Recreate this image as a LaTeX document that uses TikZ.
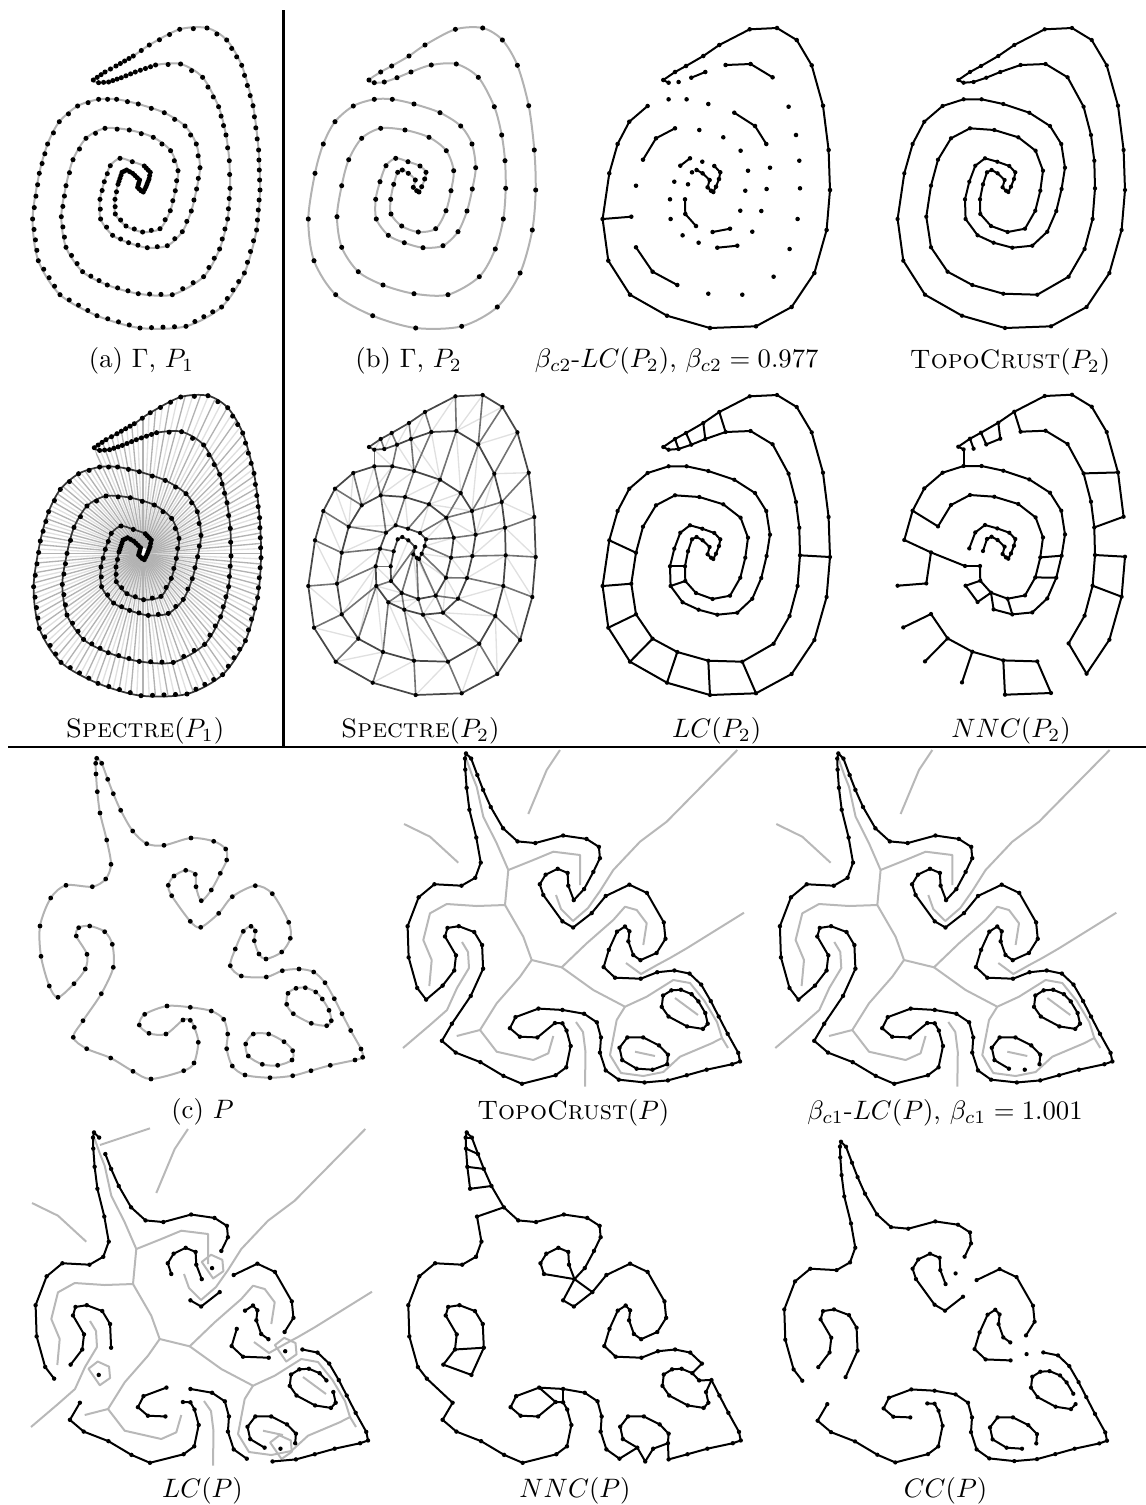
\documentclass[tikz,border=0pt]{standalone}

% samples of the spiral curve (frame of panel (a))
\newcommand\gammapts{(93.3,80),(105,72),(116,66),(133.3,56),(149.3,45),(179.7,29.3),(207,28),(226.7,40),(241.7,65.3),(253,105.7),(258.6,150),(260,190),(256.6,230),(244.4,273),(221.6,307),(186,326.3),(140,328),(97,315.7),(60,294.7),(38.3,260.7),(32.6,219),(39.3,173.3),(47.6,144),(59.3,121.7),(77.6,106),(98.6,99.3),(116.6,99.3),(138.3,104),(164.3,112.7),(185,126),(196.3,144),(200,167.7),(196.6,189),(191.3,211),(182.3,231.7),(167.3,245.7),(147.3,247.7),(128.6,242.7),(112.6,235.3),(100.6,219),(100,199.3),(104.3,181.7),(110.3,165.7),(120,158.3),(132.3,161.7),(144.3,166),(150.3,172.3),(149,179),(146,186.7),(143.3,192),(141,190.7),(137.6,187.3),(139.6,180),(132.6,173.3),(126.6,170),(122,172.3),(118,184.3),(115,199.3),(115.3,214),(126,226),(142.6,232),(160,228.7),(170.3,210.7),(175.3,190.7),(178,170.7),(170.6,150.7),(153.3,137.3),(129.3,130),(105,128.3),(86,138.3),(73,159.7),(66,185.7),(61.3,216.7),(66,247.3),(82.6,271.7),(107.3,285),(138.3,293.7),(172.3,294.7),(203.6,276.7),(219.6,249),(227.6,219),(230,188.3),(229.3,160.7),(226,135),(218.6,106.7),(202.6,77.3),(180.6,64),(155.6,65),(135.3,72),(121.3,77.7),(108.6,82),(98.6,82.7)}

% samples of the flame curve (frame of panel (c))
\newcommand\flamepts{(96.7,758.3),(101.7,763.3),(107.7,779.3),(113.3,793.7),(120.7,810.3),(132.7,831),(146.7,843.7),(164,845.3),(191,838),(213.7,841.3),(225.7,849),(226.7,860),(220.3,873.3),(211.3,890),(201.3,900.7),(196,886.7),(195.3,874.3),(185.7,870.3),(174,876),(168.3,885.3),(171.7,895.7),(190.3,921.3),(200.7,927.3),(218.7,913.3),(232.3,896.7),(255.3,885.7),(272.3,893.7),(288.7,922.3),(290.3,938.3),(281.7,952),(266,959),(259,954),(254.3,940.7),(255.3,931),(251,926.3),(243.3,931.3),(235.3,949),(230.3,965.7),(241.3,976),(266.3,977),(282.3,970.7),(299,969),(313.7,972),(325,982.7),(334.3,998.7),(342,1013.7),(350.7,1030.5),(361,1049),(362.7,1057.3),(355,1060),(330.3,1065.3),(311,1070.7),(292.7,1075.7),(270,1077.7),(245,1075),(232.3,1066),(226.7,1048.7),(227.7,1034),(223.7,1019.3),(211.3,1011),(190.3,1007.3),(167,1006),(144.7,1014.3),(139.3,1025),(149,1033.3),(166,1034),(183,1020),(190.3,1020.3),(194.3,1027.3),(198.3,1042.3),(194,1063),(183.7,1070.7),(151,1079),(133,1071.3),(110.7,1058),(86.7,1048.7),(73.3,1037.3),(83,1020.7),(101.3,993.7),(113.3,967.3),(112.3,944.3),(104.7,931.7),(89.7,926),(78.7,927.7),(76.3,936),(87,954.3),(85.3,969),(74,983.7),(58,997.3),(49.3,986),(41,956.3),(40,926),(50.7,898),(66,885.3),(92.3,886.7),(105.7,879),(111,864.3),(106.7,840),(100,813),(97.3,791.7),(96,774),(95.7,763.3)}
\newcommand\holeApts{(296,988.3),(305.3,987.7),(315.7,992),(322.3,999),(329,1010.3),(331.3,1020.7),(326.7,1025.7),(311.3,1023.3),(293.3,1013.7),(286.7,1004.3),(288,993.3)}
\newcommand\holeBpts{(253.3,1034),(268.7,1034),(284,1041.7),(292.7,1050.7),(292,1060),(277.7,1065.3),(262.3,1064.3),(248.3,1056),(245.7,1044)}

% rungs of the Spectre mesh on P2
\newcommand\spectrerungs{2/91,3/90,4/89,5/88,6/87,7/86,8/86,9/85,10/84,11/83,12/82,13/81,14/80,15/79,16/78,17/77,18/76,19/75,20/74,21/73,22/72,23/71,24/70,25/70,92/26,90/27,89/28,88/28,87/29,86/30,85/31,84/31,83/32,82/33,81/34,80/35,79/36,78/37,77/38,76/39,75/40,74/40,73/41,72/42,71/43,26/69,27/69,28/68,29/67,30/66,31/66,32/65,33/64,34/63,35/62,36/62,37/61,38/60,39/60,40/59,41/58,42/57,69/43,68/44,67/45,66/46,65/47,64/48,63/49,62/50,61/51,60/52,59/53}

\newcommand\mkcoords[2]{\foreach \p [count=\i] in #2 {\edef\tmpcoord{\noexpand\coordinate (#1\i) at \p;}\tmpcoord}}
\newcommand\sites[3]{\foreach \i in {1,...,#2} {\fill (#1\i) circle[radius=#3];}}
\newcommand\chain[4]{\draw[#1] (#2#3) \foreach \i in {#3,...,#4} {-- (#2\i)};}
\newcommand\ring[3]{\draw[#1] (#21) \foreach \i in {2,...,#3} {-- (#2\i)} -- cycle;}
\newcommand\rungs[3]{\foreach \u/\v in {#3} {\draw[#1] (#2\u) -- (#2\v);}}
\newcommand\links[2]{\foreach \u/\v in {#2} {\draw[#1] (\u) -- (\v);}}
\newcommand\smoothloop[3]{%
  \gdef\looppts{}\foreach \i in {1,...,#2} {\xdef\looppts{\looppts(#1\i)}}%
  \edef\tmpdraw{\noexpand\path[#3] plot[smooth cycle, tension=0.5] coordinates {\looppts};}\tmpdraw}
\makeatletter
% dense sample P1: extra sites between consecutive points of P2
\newcommand\densesamples[1]{%
  \foreach \i in {1,...,92} {%
    \pgfmathtruncatemacro\j{mod(\i,92)+1}%
    \pgfmathsetmacro\gap{(\i>45 && \i<57) ? 1.1 : ((\i>87 || \i<4) ? 1.9 : ((\i>37 && \i<62) ? 3.2 : 4.2))}%
    \pgfpointdiff{\pgfpointanchor{#1\i}{center}}{\pgfpointanchor{#1\j}{center}}%
    \pgf@xa=\pgf@x \pgf@ya=\pgf@y
    \pgfmathveclen{\pgf@xa}{\pgf@ya}%
    \pgfmathtruncatemacro\nn{max(1,round(\pgfmathresult/\gap))}%
    \foreach \k in {1,...,\nn} {%
      \pgfmathsetmacro\tpos{(\k-1)/\nn}%
      \pgfpathcircle{\pgfpointlineattime{\tpos}{\pgfpointanchor{#1\i}{center}}{\pgfpointanchor{#1\j}{center}}}{0.95pt}%
      \pgfusepath{fill}%
    }%
  }}
\makeatother
\newcommand\flamecoords[1]{\mkcoords{#1f}{\flamepts}\mkcoords{#1e}{\holeApts}\mkcoords{#1q}{\holeBpts}}
\newcommand\flamesites[2]{\sites{#1f}{102}{#2}\sites{#1e}{11}{#2}\sites{#1q}{9}{#2}}

% medial lines of the flame, frame of the TopoCrust(P) panel
\newcommand\skeleton{%
  \draw[skel] (404,824) -- (430,836.7) -- (458.3,862.7);
  \draw[skel] (560,750) -- (546.7,770) -- (528.3,814);
  \draw[skel] (737.3,750) -- (666.7,821.7) -- (640,841.7) -- (613.3,870) -- (600,891) -- (588,908) -- (573,921) -- (561,909) -- (556,895);
  \draw[skel] (744,912.7) -- (686.7,948.3) -- (670,958) -- (657,965) -- (641,974) -- (626,963);
  \draw[skel] (466.7,760) -- (472,775) -- (476.7,786.7) -- (483.3,816.7) -- (496.7,843.3) -- (508.3,870) -- (533.3,860) -- (553.3,851.7) -- (580,855) -- (580,885);
  \draw[skel] (508.3,870) -- (505,905) -- (476.7,906) -- (446.7,904) -- (430,913.3) -- (423.3,940) -- (431.7,960) -- (429.3,986);
  \draw[skel] (462,942) -- (468,952) -- (469,968) -- (457,988) -- (447,1010) -- (430,1025) -- (403,1048);
  \draw[skel] (505,905) -- (523.3,936.7) -- (531.7,960) -- (561.7,967.3) -- (586.7,943.3) -- (613.3,920) -- (625,906.7) -- (636.7,910) -- (646.7,923.3) -- (643.3,945);
  \draw[skel] (561.7,967.3) -- (593.3,990) -- (625,1006.7) -- (646.7,996.7) -- (673.3,980) -- (690,983) -- (704.5,1001) -- (717,1022) -- (722,1038);
  \draw[skel] (675,998) -- (698,1015);
  \draw[skel] (625,1006.7) -- (616.7,1020) -- (610,1055) -- (621,1073) -- (643.3,1076) -- (663.3,1072) -- (680,1056.7) -- (711.7,1043.3) -- (722,1038) -- (728,1048);
  \draw[skel] (635,1051.7) -- (655,1056);
  \draw[skel] (531.7,960) -- (520,976.7) -- (496.7,1003.3) -- (480,1030) -- (456.7,1036);
  \draw[skel] (480,1030) -- (496.7,1051.7) -- (533.3,1060) -- (548.3,1053.3) -- (553.3,1036);
  \draw[skel] (585,1086.7) -- (585.5,1052) -- (583,1032) -- (576,1022);}

\begin{document}
\begin{tikzpicture}[x=0.375pt, y=-0.375pt,
    gcurve/.style={draw=black!30, line width=0.75pt},
    crust/.style={draw=black, line width=0.75pt, line join=round, line cap=round},
    skel/.style={draw=black!28, line width=0.75pt, line join=round},
    spoke/.style={draw=black!30, line width=0.5pt},
    faint/.style={draw=black!12, line width=0.5pt},
    rung/.style={draw=black!55, line width=0.6pt},
    mesh/.style={draw=black!72, line width=0.65pt, line join=round},
    rule/.style={draw=black, line width=0.8pt}]
    \useasboundingbox (0,0) rectangle (1146,1505);

    % frame rules
    \draw[rule] (283.5,10) -- (283.5,747);
    \draw[rule] (8,747) -- (1146,747);

    % (a) Gamma with dense sample P1
    \begin{scope}
        \mkcoords{a}{\gammapts}
        \smoothloop{a}{92}{gcurve}
        \densesamples{a}
    \end{scope}

    % (b) Gamma with sparse sample P2
    \begin{scope}[shift={(275.7,0)}]
        \mkcoords{b}{\gammapts}
        \smoothloop{b}{92}{gcurve}
        \sites{b}{92}{0.95pt}
    \end{scope}

    % beta-LC(P2)
    \begin{scope}[shift={(570,0)}]
        \mkcoords{k}{\gammapts}
        \chain{crust}{k}{1}{25} \chain{crust}{k}{29}{31} \chain{crust}{k}{36}{37}
        \chain{crust}{k}{43}{44} \chain{crust}{k}{46}{55} \chain{crust}{k}{58}{60}
        \chain{crust}{k}{61}{62} \chain{crust}{k}{69}{71} \chain{crust}{k}{74}{76}
        \chain{crust}{k}{86}{88} \chain{crust}{k}{89}{90}
        \rungs{crust}{k}{21/73,92/1}
        \sites{k}{92}{0.85pt}
    \end{scope}

    % TopoCrust(P2)
    \begin{scope}[shift={(865,0)}]
        \mkcoords{t}{\gammapts}
        \ring{crust}{t}{92}
        \sites{t}{92}{0.8pt}
    \end{scope}

    % Spectre(P1)
    \begin{scope}[shift={(1,367.7)}]
        \mkcoords{s}{\gammapts}
        \begin{scope}
            \clip (s1) \foreach \i in {2,...,26} {-- (s\i)} -- cycle;
            \foreach \ang in {0,5,...,355} {
                \draw[faint] (142,186) ++({\ang+2.5}:6) -- ++({\ang+2.5}:270);
                \draw[spoke] (142,186) ++(\ang:6) -- ++(\ang:270);
            }
        \end{scope}
        \smoothloop{s}{92}{draw=black!80, line width=0.65pt}
        \densesamples{s}
    \end{scope}

    % Spectre(P2)
    \begin{scope}[shift={(275.7,367)}]
        \mkcoords{p}{\gammapts}
        \foreach \u/\v in \spectrerungs {\pgfmathtruncatemacro\w{mod(\v,92)+1}\draw[faint] (p\u) -- (p\w);}
        \foreach \u/\v in \spectrerungs {\draw[rung] (p\u) -- (p\v);}
        \ring{mesh}{p}{92}
        \sites{p}{92}{0.8pt}
    \end{scope}

    % LC(P2)
    \begin{scope}[shift={(570,367)}]
        \mkcoords{l}{\gammapts}
        \ring{crust}{l}{92}
        \rungs{crust}{l}{2/91,3/90,4/89,5/88,12/82,22/72,21/73,20/74,19/75,18/76,17/77,16/78,41/58,40/59}
        \sites{l}{92}{0.8pt}
    \end{scope}

    % NNC(P2)
    \begin{scope}[shift={(865,366.7)}]
        \mkcoords{n}{\gammapts}
        \chain{crust}{n}{1}{11} \chain{crust}{n}{12}{15} \chain{crust}{n}{16}{17}
        \chain{crust}{n}{22}{26} \chain{crust}{n}{26}{37} \chain{crust}{n}{42}{57}
        \chain{crust}{n}{58}{61} \chain{crust}{n}{62}{71} \chain{crust}{n}{72}{73}
        \chain{crust}{n}{75}{78} \chain{crust}{n}{79}{88}
        \rungs{crust}{n}{15/79,78/16,17/77,18/76,19/75,74/75,20/74,21/73,22/72,23/71,72/41,41/58,37/38,38/60,61/62,37/61,39/40,40/59,39/60,33/64,34/63,11/83,10/85,12/82,13/81,5/88,4/89,89/90,90/3,2/91,1/92,92/26}
        \sites{n}{92}{0.8pt}
    \end{scope}

    % (c) the flame curve P
    \flamecoords{c}
    \smoothloop{cf}{102}{gcurve}
    \smoothloop{ce}{11}{gcurve}
    \smoothloop{cq}{9}{gcurve}
    \flamesites{c}{0.9pt}

    % TopoCrust(P)
    \skeleton
    \begin{scope}[shift={(466,753.3)}, scale=1.03, shift={(-96.7,-758.3)}]
        \flamecoords{T}
        \ring{crust}{Tf}{102} \ring{crust}{Te}{11} \ring{crust}{Tq}{9}
        \flamesites{T}{0.8pt}
    \end{scope}

    % beta-LC(P)
    \begin{scope}[shift={(372.3,0)}]
        \skeleton
    \end{scope}
    \begin{scope}[shift={(838.3,753.3)}, scale=1.03, shift={(-96.7,-758.3)}]
        \flamecoords{B}
        \ring{crust}{Bf}{102} \ring{crust}{Be}{11}
        \draw[crust] (Bq7) -- (Bq8) -- (Bq9) -- (Bq1) -- (Bq2) -- (Bq3) -- (Bq4) -- (Bq5);
        \flamesites{B}{0.8pt}
    \end{scope}

    % LC(P)
    \begin{scope}[shift={(-372,379)}]
        \skeleton
        \draw[skel] (472,766) -- (522,749.3);
    \end{scope}
    \begin{scope}[shift={(94,1132.3)}, scale=1.03, shift={(-96.7,-758.3)}]
        \flamecoords{L}
        \foreach \c in {Lf14,Lf41,Lf79,Lq6} {
            \draw[skel] (\c) ++(-10,-6) -- ++(9,-7) -- ++(11,5) -- ++(1,11) -- ++(-10,7) -- cycle;
        }
        \chain{crust}{Lf}{89}{102} \draw[crust] (Lf102) -- (Lf1) -- (Lf2);
        \chain{crust}{Lf}{3}{13} \chain{crust}{Lf}{15}{21} \chain{crust}{Lf}{22}{24}
        \chain{crust}{Lf}{25}{30} \chain{crust}{Lf}{31}{36} \chain{crust}{Lf}{37}{40}
        \chain{crust}{Lf}{42}{54} \chain{crust}{Lf}{55}{61} \chain{crust}{Lf}{62}{66}
        \chain{crust}{Lf}{67}{78} \chain{crust}{Lf}{80}{88}
        \chain{crust}{Le}{5}{11} \draw[crust] (Le11) -- (Le1) -- (Le2) -- (Le3) -- (Le4);
        \draw[crust] (Lq7) -- (Lq8) -- (Lq9) -- (Lq1) -- (Lq2) -- (Lq3) -- (Lq4) -- (Lq5);
        \flamesites{L}{0.8pt}
    \end{scope}

    % NNC(P)
    \begin{scope}[shift={(466.7,1132.3)}, scale=1.03, shift={(-96.7,-758.3)}]
        \flamecoords{N}
        \chain{crust}{Nf}{1}{21} \chain{crust}{Nf}{22}{44} \chain{crust}{Nf}{45}{53}
        \chain{crust}{Nf}{55}{78} \chain{crust}{Nf}{79}{88} \chain{crust}{Nf}{89}{98}
        \chain{crust}{Nf}{99}{102} \draw[crust] (Nf102) -- (Nf1);
        \chain{crust}{Ne}{5}{11} \draw[crust] (Ne11) -- (Ne1) -- (Ne2) -- (Ne3) -- (Ne4);
        \draw[crust] (Nq7) -- (Nq8) -- (Nq9) -- (Nq1) -- (Nq2) -- (Nq3) -- (Nq4) -- (Nq5) -- (Nq6);
        \links{crust}{Nf102/Nf2,Nf101/Nf3,Nf100/Nf4,Nf99/Nf5,Nf98/Nf6,Nf21/Nf15,Nf15/Nf22,Nf15/Nf24,Nf89/Nf78,Nf88/Nf79,Nf80/Nf87,Nf62/Nf67,Nf61/Nf68,Nf55/Nq7,Nq7/Nf54,Nf54/Nq6,Nq5/Nf53,Nf44/Ne3,Ne4/Nf45,Nf45/Ne5}
        \flamesites{N}{0.8pt}
    \end{scope}

    % CC(P)
    \begin{scope}[shift={(841,1141.7)}, shift={(-96.7,-758.3)}]
        \flamecoords{C}
        \chain{crust}{Cf}{89}{102} \draw[crust] (Cf102) -- (Cf1); \chain{crust}{Cf}{1}{13}
        \chain{crust}{Cf}{15}{24} \chain{crust}{Cf}{25}{30} \chain{crust}{Cf}{31}{40}
        \chain{crust}{Cf}{42}{66} \chain{crust}{Cf}{67}{78} \chain{crust}{Cf}{79}{88}
        \chain{crust}{Ce}{6}{11} \draw[crust] (Ce11) -- (Ce1) -- (Ce2) -- (Ce3) -- (Ce4) -- (Ce5);
        \chain{crust}{Cq}{6}{9} \draw[crust] (Cq9) -- (Cq1) -- (Cq2) -- (Cq3) -- (Cq4) -- (Cq5);
        \flamesites{C}{0.8pt}
    \end{scope}

    % captions
    \node (capa) at (141.5,361) {(a) $\Gamma$, $P_1$};
    \node (capb) at (408.7,361) {(b) $\Gamma$, $P_2$};
    \node (capbeta2) at (676.7,361) {$\beta_{c2}$-$LC(P_2)$, $\beta_{c2}=0.977$};
    \node (captopo2) at (1010,362) {\textsc{TopoCrust}$(P_2)$};
    \node (capspec1) at (145,731) {\textsc{Spectre}$(P_1)$};
    \node (capspec2) at (420.3,731) {\textsc{Spectre}$(P_2)$};
    \node (caplc2) at (716.7,731) {$LC(P_2)$};
    \node (capnnc2) at (1011,731) {$NNC(P_2)$};
    \node (capc) at (202.5,1112) {(c) $P$};
    \node (captopo) at (573.3,1113) {\textsc{TopoCrust}$(P)$};
    \node (capbeta1) at (945,1113) {$\beta_{c1}$-$LC(P)$, $\beta_{c1}=1.001$};
    \node (caplc) at (202.5,1490.5) {$LC(P)$};
    \node (capnnc) at (575,1490.5) {$NNC(P)$};
    \node (capcc) at (945.5,1490.5) {$CC(P)$};
\end{tikzpicture}
\end{document}
